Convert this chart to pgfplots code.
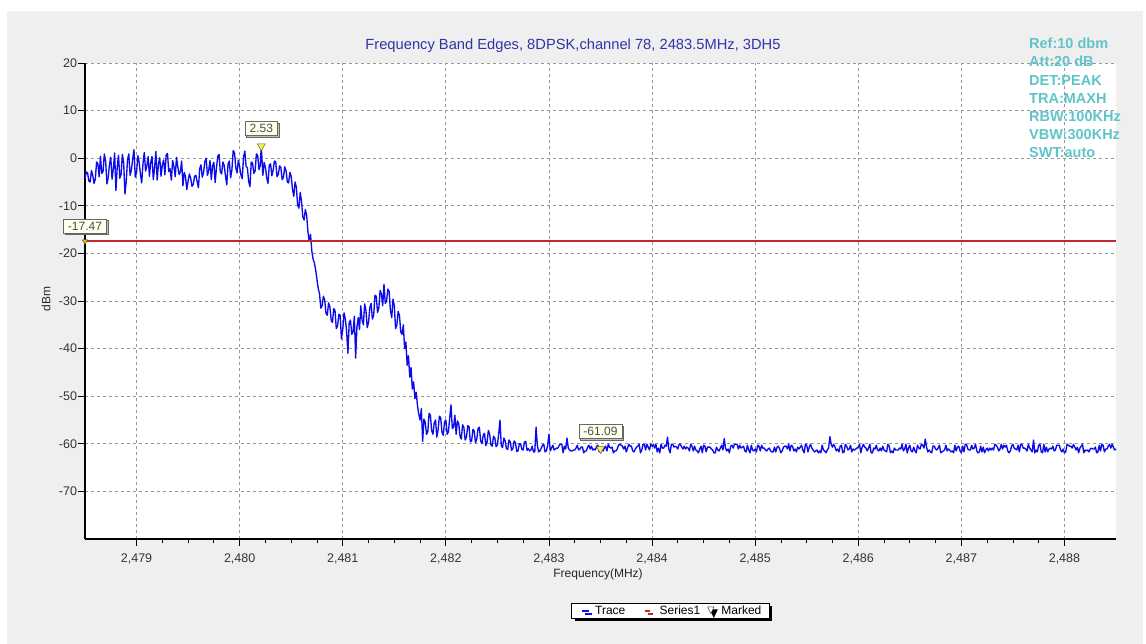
\documentclass[border=0pt]{standalone}
\usepackage{fontspec}
\setmainfont{Liberation Sans}
\usepackage{pgfplots}
\pgfplotsset{compat=1.18}
\usetikzlibrary{shadows}
\definecolor{bggray}{RGB}{239,239,239}
\definecolor{traceblue}{RGB}{12,12,235}
\definecolor{limitred}{RGB}{196,40,45}
\definecolor{titleblue}{RGB}{50,50,170}
\definecolor{tealtxt}{RGB}{96,196,200}
\definecolor{gridgray}{RGB}{150,150,150}
\definecolor{labelfill}{RGB}{255,255,236}
\definecolor{markyellow}{RGB}{250,240,90}
\begin{document}
\begin{tikzpicture}
\path[use as bounding box, fill=white] (0pt,0pt) rectangle (1146pt,644pt);
\fill[bggray] (7pt,0pt) rectangle (1143pt,633pt);
\begin{axis}[
  at={(85pt,105pt)}, anchor=south west,
  scale only axis, width=1031pt, height=476pt,
  xmin=2478.5, xmax=2488.5, ymin=-80, ymax=20,
  clip=false,
  axis background/.style={fill=white},
  axis x line*=bottom, axis y line*=left,
  axis line style={line width=2pt, black, -},
  xtick={2479,2480,2481,2482,2483,2484,2485,2486,2487,2488},
  xticklabels={{2,479},{2,480},{2,481},{2,482},{2,483},{2,484},{2,485},{2,486},{2,487},{2,488}},
  ytick={-70,-60,-50,-40,-30,-20,-10,0,10,20},
  yticklabels={-70,-60,-50,-40,-30,-20,-10,0,10,20},
  minor x tick num=3,
  tick align=outside, major tick length=7pt, minor tick length=4pt,
  tick style={black, line width=0.8pt},
  grid=major,
  major grid style={gridgray, line width=0.9pt, dash pattern=on 3pt off 3pt},
  tick label style={font=\fontsize{12.5}{14}\selectfont, text=black!80},
  xticklabel style={yshift=-4.5pt},
  yticklabel style={xshift=2.5pt},
  xlabel={Frequency(MHz)}, ylabel={dBm},
  every axis x label/.style={at={(axis description cs:0.4976,-0.0735)}, anchor=center, font=\fontsize{12}{14}\selectfont, text=black!85},
  every axis y label/.style={at={(axis description cs:-0.0378,0.504)}, rotate=90, anchor=center, font=\fontsize{12}{14}\selectfont, text=black!85},
  legend columns=3,
  legend cell align=left,
  legend style={at={(0.568,-0.151)}, anchor=center, draw=black, line width=1.1pt, fill=white,
    font=\fontsize{12}{14}\selectfont, inner xsep=6pt, inner ysep=1pt,
    nodes={inner xsep=2pt, inner ysep=1.5pt},
    drop shadow={shadow xshift=3pt, shadow yshift=-3pt, fill=black, opacity=1},
    /tikz/every odd column/.append style={column sep=0pt},
    /tikz/every even column/.append style={column sep=4pt}},
]
\addplot[traceblue, line width=1.35pt, line join=round,
  legend image code/.code={\path (0pt,0pt) (14pt,0pt); \draw[traceblue,line width=1.5pt] (4pt,0pt) -- (11pt,0pt);}]
coordinates {
(2478.500,-4.2)(2478.5125,-2.9)(2478.525,-3.1)(2478.5375,-4.8)(2478.550,-5.0)(2478.5625,-2.6)(2478.575,-3.6)(2478.5875,-5.3)
(2478.600,-4.4)(2478.6125,-0.8)(2478.625,-1.2)(2478.6375,-3.9)(2478.650,0.4)(2478.6625,-3.2)(2478.675,-2.8)(2478.6875,0.9)
(2478.700,-0.6)(2478.7125,-5.4)(2478.725,-4.1)(2478.7375,-1.3)(2478.750,0.2)(2478.7625,-4.4)(2478.775,-2.2)(2478.7875,1.1)
(2478.800,-6.8)(2478.8125,-1.9)(2478.825,0.6)(2478.8375,-4.2)(2478.850,-3.4)(2478.8625,0.8)(2478.875,-1.0)(2478.8875,-7.5)
(2478.900,-4.9)(2478.9125,-0.3)(2478.925,0.9)(2478.9375,-3.6)(2478.950,-2.5)(2478.9625,-0.2)(2478.975,1.8)(2478.9875,-4.0)
(2479.000,-3.0)(2479.0125,0.5)(2479.025,-0.8)(2479.0375,-3.3)(2479.050,-5.2)(2479.0625,-1.1)(2479.075,1.2)(2479.0875,-2.7)
(2479.100,-1.6)(2479.1125,0.3)(2479.125,-3.8)(2479.1375,-0.9)(2479.150,0.4)(2479.1625,-4.5)(2479.175,-2.0)(2479.1875,1.4)
(2479.200,-4.6)(2479.2125,-1.2)(2479.225,0.1)(2479.2375,-3.8)(2479.250,-1.4)(2479.2625,-0.4)(2479.275,-3.5)(2479.2875,0.7)
(2479.300,1.0)(2479.3125,-2.8)(2479.325,-2.2)(2479.3375,-4.6)(2479.350,-0.5)(2479.3625,-1.7)(2479.375,-3.9)(2479.3875,0.2)
(2479.400,-1.8)(2479.4125,-3.4)(2479.425,-2.9)(2479.4375,-0.6)(2479.450,-5.8)(2479.4625,-3.0)(2479.475,-3.9)(2479.4875,-6.6)
(2479.500,-4.8)(2479.5125,-3.3)(2479.525,-4.2)(2479.5375,-5.9)(2479.550,-5.5)(2479.5625,-3.8)(2479.575,-3.6)(2479.5875,-4.9)
(2479.600,-6.2)(2479.6125,-2.2)(2479.625,-1.4)(2479.6375,-4.0)(2479.650,-3.0)(2479.6625,-0.7)(2479.675,0.0)(2479.6875,-3.6)
(2479.700,-2.6)(2479.7125,-0.5)(2479.725,-4.5)(2479.7375,-1.6)(2479.750,-0.9)(2479.7625,-5.1)(2479.775,-2.1)(2479.7875,0.4)
(2479.800,0.8)(2479.8125,-2.9)(2479.825,-3.3)(2479.8375,-0.8)(2479.850,-1.5)(2479.8625,-3.7)(2479.875,-5.6)(2479.8875,-1.2)
(2479.900,-0.6)(2479.9125,-4.1)(2479.925,-2.4)(2479.9375,1.6)(2479.950,1.2)(2479.9625,-2.0)(2479.975,-3.1)(2479.9875,-0.4)
(2480.000,-1.8)(2480.0125,-3.5)(2480.025,-4.3)(2480.0375,0.2)(2480.050,1.5)(2480.0625,-1.7)(2480.075,-2.0)(2480.0875,-4.9)
(2480.100,-6.0)(2480.1125,-0.8)(2480.125,-1.0)(2480.1375,-3.2)(2480.150,-2.7)(2480.1625,0.9)(2480.175,0.6)(2480.1875,-2.4)
(2480.200,-1.5)(2480.210,2.53)(2480.225,-3.6)(2480.2375,-0.9)(2480.250,-1.9)(2480.2625,-4.1)(2480.275,-5.3)(2480.2875,-1.4)
(2480.300,-1.2)(2480.3125,-3.7)(2480.325,-2.5)(2480.3375,-0.6)(2480.350,-0.8)(2480.3625,-3.9)(2480.375,-3.4)(2480.3875,-1.6)
(2480.400,-2.0)(2480.4125,-4.5)(2480.425,-4.0)(2480.4375,-1.8)(2480.450,-2.6)(2480.4625,-5.0)(2480.475,-5.2)(2480.4875,-3.0)
(2480.500,-3.8)(2480.5125,-6.5)(2480.525,-8.0)(2480.5375,-5.0)(2480.550,-6.1)(2480.5625,-9.8)(2480.575,-10.5)(2480.5875,-7.2)
(2480.600,-9.0)(2480.6125,-12.3)(2480.625,-13.0)(2480.6375,-10.8)(2480.650,-12.0)(2480.6625,-15.5)(2480.675,-17.5)(2480.6875,-16.0)
(2480.700,-19.5)(2480.7125,-21.2)(2480.725,-22.0)(2480.7375,-23.5)(2480.750,-25.5)(2480.7625,-27.4)(2480.775,-28.5)(2480.7875,-31.5)
(2480.800,-31.0)(2480.8125,-29.0)(2480.825,-29.8)(2480.8375,-32.6)(2480.850,-33.0)(2480.8625,-30.4)(2480.875,-31.2)(2480.8875,-34.0)
(2480.900,-34.5)(2480.9125,-31.6)(2480.925,-32.0)(2480.9375,-35.8)(2480.950,-35.2)(2480.9625,-32.8)(2480.975,-33.0)(2480.9875,-38.0)
(2481.000,-36.0)(2481.0125,-32.5)(2481.025,-33.8)(2481.0375,-36.4)(2481.050,-41.0)(2481.0625,-34.6)(2481.075,-34.0)(2481.0875,-37.0)
(2481.100,-36.5)(2481.1125,-33.2)(2481.125,-42.0)(2481.1375,-35.5)(2481.150,-33.5)(2481.1625,-36.0)(2481.175,-31.0)(2481.1875,-34.0)
(2481.200,-35.0)(2481.2125,-30.6)(2481.225,-32.0)(2481.2375,-35.6)(2481.250,-34.5)(2481.2625,-31.4)(2481.275,-30.5)(2481.2875,-33.8)
(2481.300,-33.0)(2481.3125,-28.8)(2481.325,-29.0)(2481.3375,-32.4)(2481.350,-31.5)(2481.3625,-27.8)(2481.375,-28.5)(2481.3875,-31.0)
(2481.400,-26.5)(2481.4125,-30.5)(2481.425,-30.0)(2481.4375,-27.5)(2481.450,-28.0)(2481.4625,-32.0)(2481.475,-33.5)(2481.4875,-29.6)
(2481.500,-31.0)(2481.5125,-35.8)(2481.525,-35.0)(2481.5375,-32.2)(2481.550,-33.0)(2481.5625,-36.5)(2481.575,-37.0)(2481.5875,-35.0)
(2481.600,-40.0)(2481.6125,-38.6)(2481.625,-43.5)(2481.6375,-41.5)(2481.650,-46.0)(2481.6625,-44.0)(2481.675,-48.5)(2481.6875,-47.0)
(2481.700,-50.5)(2481.7125,-49.2)(2481.725,-52.0)(2481.7375,-53.8)(2481.750,-55.0)(2481.7625,-52.6)(2481.775,-59.5)(2481.7875,-54.8)
(2481.800,-55.5)(2481.8125,-58.0)(2481.825,-57.5)(2481.8375,-53.6)(2481.850,-54.0)(2481.8625,-57.2)(2481.875,-58.0)(2481.8875,-55.6)
(2481.900,-55.0)(2481.9125,-58.6)(2481.925,-57.0)(2481.9375,-54.2)(2481.950,-54.5)(2481.9625,-57.6)(2481.975,-58.2)(2481.9875,-55.4)
(2482.000,-55.0)(2482.0125,-58.0)(2482.025,-57.5)(2482.0375,-54.6)(2482.050,-51.8)(2482.0625,-56.8)(2482.075,-56.5)(2482.0875,-54.0)
(2482.100,-58.0)(2482.1125,-55.2)(2482.125,-55.8)(2482.1375,-58.4)(2482.150,-59.0)(2482.1625,-56.0)(2482.175,-56.6)(2482.1875,-59.2)
(2482.200,-58.6)(2482.2125,-56.2)(2482.225,-56.4)(2482.2375,-59.6)(2482.250,-59.4)(2482.2625,-57.0)(2482.275,-57.3)(2482.2875,-59.8)
(2482.300,-59.0)(2482.3125,-56.8)(2482.325,-56.5)(2482.3375,-59.4)(2482.350,-60.0)(2482.3625,-58.2)(2482.375,-57.8)(2482.3875,-60.4)
(2482.400,-59.6)(2482.4125,-57.2)(2482.425,-58.0)(2482.4375,-60.2)(2482.450,-60.5)(2482.4625,-58.4)(2482.475,-58.8)(2482.4875,-60.6)
(2482.500,-60.2)(2482.5125,-58.0)(2482.525,-55.0)(2482.5375,-60.4)(2482.550,-60.8)(2482.5625,-58.8)(2482.575,-59.4)(2482.5875,-61.0)
(2482.600,-61.2)(2482.6125,-59.2)(2482.625,-59.6)(2482.6375,-61.4)(2482.650,-61.0)(2482.6625,-59.4)(2482.675,-59.8)(2482.6875,-61.6)
(2482.700,-61.5)(2482.7125,-60.0)(2482.725,-60.0)(2482.7375,-61.2)(2482.750,-61.3)(2482.7625,-59.6)(2482.775,-59.5)(2482.7875,-61.4)
(2482.800,-61.0)(2482.8125,-61.5)(2482.825,-61.3)(2482.8375,-60.5)(2482.850,-61.7)(2482.8625,-61.7)(2482.875,-56.5)(2482.8875,-60.3)
(2482.900,-61.7)(2482.9125,-61.5)(2482.925,-60.9)(2482.9375,-60.3)(2482.950,-60.1)(2482.9625,-61.7)(2482.975,-61.5)(2482.9875,-60.3)
(2483.000,-58.0)(2483.0125,-61.5)(2483.025,-60.9)(2483.0375,-60.3)(2483.050,-61.3)(2483.0625,-61.1)(2483.075,-60.9)(2483.0875,-60.9)
(2483.100,-60.3)(2483.1125,-60.1)(2483.125,-60.1)(2483.1375,-61.9)(2483.150,-60.5)(2483.1625,-61.1)(2483.175,-58.8)(2483.1875,-60.9)
(2483.200,-61.3)(2483.2125,-61.5)(2483.225,-61.5)(2483.2375,-61.3)(2483.250,-61.3)(2483.2625,-60.9)(2483.275,-60.3)(2483.2875,-61.3)
(2483.300,-61.1)(2483.3125,-60.7)(2483.325,-60.7)(2483.3375,-61.9)(2483.350,-61.5)(2483.3625,-61.5)(2483.375,-60.7)(2483.3875,-60.3)
(2483.400,-61.1)(2483.4125,-60.5)(2483.425,-61.3)(2483.4375,-61.1)(2483.450,-61.3)(2483.4625,-60.5)(2483.475,-60.3)(2483.4875,-61.7)
(2483.500,-61.09)(2483.5125,-61.3)(2483.525,-61.5)(2483.5375,-60.9)(2483.550,-60.5)(2483.5625,-61.5)(2483.575,-60.1)(2483.5875,-60.7)
(2483.600,-60.9)(2483.6125,-60.7)(2483.625,-61.9)(2483.6375,-61.5)(2483.650,-61.5)(2483.6625,-61.1)(2483.675,-60.3)(2483.6875,-60.1)
(2483.700,-60.3)(2483.7125,-60.5)(2483.725,-61.1)(2483.7375,-60.5)(2483.750,-61.7)(2483.7625,-60.9)(2483.775,-60.1)(2483.7875,-60.5)
(2483.800,-60.5)(2483.8125,-61.5)(2483.825,-61.7)(2483.8375,-61.1)(2483.850,-60.7)(2483.8625,-60.5)(2483.875,-60.1)(2483.8875,-61.9)
(2483.900,-61.3)(2483.9125,-60.1)(2483.925,-60.1)(2483.9375,-61.3)(2483.950,-60.1)(2483.9625,-60.7)(2483.975,-61.3)(2483.9875,-60.1)
(2484.000,-60.5)(2484.0125,-60.1)(2484.025,-60.9)(2484.0375,-60.1)(2484.050,-61.7)(2484.0625,-60.9)(2484.075,-61.9)(2484.0875,-60.1)
(2484.100,-60.9)(2484.1125,-60.9)(2484.125,-60.3)(2484.1375,-60.5)(2484.150,-58.6)(2484.1625,-61.1)(2484.175,-61.9)(2484.1875,-60.1)
(2484.200,-60.1)(2484.2125,-60.7)(2484.225,-60.5)(2484.2375,-60.7)(2484.250,-61.1)(2484.2625,-60.1)(2484.275,-60.1)(2484.2875,-60.7)
(2484.300,-61.1)(2484.3125,-60.5)(2484.325,-61.1)(2484.3375,-60.7)(2484.350,-60.9)(2484.3625,-61.5)(2484.375,-60.1)(2484.3875,-60.5)
(2484.400,-61.5)(2484.4125,-60.5)(2484.425,-61.3)(2484.4375,-61.5)(2484.450,-61.9)(2484.4625,-61.1)(2484.475,-60.5)(2484.4875,-61.9)
(2484.500,-60.3)(2484.5125,-60.5)(2484.525,-61.7)(2484.5375,-60.7)(2484.550,-60.7)(2484.5625,-60.7)(2484.575,-61.1)(2484.5875,-61.3)
(2484.600,-61.9)(2484.6125,-61.9)(2484.625,-60.7)(2484.6375,-61.3)(2484.650,-61.5)(2484.6625,-60.9)(2484.675,-60.3)(2484.6875,-61.3)
(2484.700,-58.9)(2484.7125,-60.9)(2484.725,-61.5)(2484.7375,-61.1)(2484.750,-61.9)(2484.7625,-60.5)(2484.775,-60.3)(2484.7875,-60.9)
(2484.800,-60.1)(2484.8125,-60.1)(2484.825,-60.1)(2484.8375,-61.1)(2484.850,-60.3)(2484.8625,-60.9)(2484.875,-60.7)(2484.8875,-60.5)
(2484.900,-61.5)(2484.9125,-61.7)(2484.925,-60.3)(2484.9375,-61.3)(2484.950,-61.9)(2484.9625,-60.3)(2484.975,-61.3)(2484.9875,-61.5)
(2485.000,-61.1)(2485.0125,-61.7)(2485.025,-60.3)(2485.0375,-60.5)(2485.050,-61.5)(2485.0625,-60.3)(2485.075,-60.9)(2485.0875,-60.9)
(2485.100,-61.3)(2485.1125,-61.5)(2485.125,-61.1)(2485.1375,-60.9)(2485.150,-61.5)(2485.1625,-61.7)(2485.175,-61.7)(2485.1875,-60.7)
(2485.200,-61.7)(2485.2125,-60.7)(2485.225,-60.5)(2485.2375,-61.1)(2485.250,-61.9)(2485.2625,-61.5)(2485.275,-60.7)(2485.2875,-60.5)
(2485.300,-60.5)(2485.3125,-61.1)(2485.325,-60.1)(2485.3375,-61.5)(2485.350,-60.3)(2485.3625,-60.5)(2485.375,-61.5)(2485.3875,-61.1)
(2485.400,-61.7)(2485.4125,-60.7)(2485.425,-61.1)(2485.4375,-60.7)(2485.450,-60.3)(2485.4625,-61.3)(2485.475,-61.9)(2485.4875,-60.1)
(2485.500,-60.3)(2485.5125,-61.7)(2485.525,-60.7)(2485.5375,-60.1)(2485.550,-60.9)(2485.5625,-61.3)(2485.575,-61.7)(2485.5875,-61.5)
(2485.600,-61.3)(2485.6125,-61.9)(2485.625,-61.5)(2485.6375,-61.9)(2485.650,-60.3)(2485.6625,-61.3)(2485.675,-61.5)(2485.6875,-61.9)
(2485.700,-61.3)(2485.7125,-60.9)(2485.725,-58.5)(2485.7375,-60.1)(2485.750,-60.7)(2485.7625,-60.1)(2485.775,-60.7)(2485.7875,-61.5)
(2485.800,-61.1)(2485.8125,-61.7)(2485.825,-60.5)(2485.8375,-60.3)(2485.850,-61.9)(2485.8625,-61.7)(2485.875,-60.1)(2485.8875,-60.5)
(2485.900,-61.3)(2485.9125,-61.1)(2485.925,-60.3)(2485.9375,-61.7)(2485.950,-61.1)(2485.9625,-61.3)(2485.975,-61.1)(2485.9875,-60.9)
(2486.000,-60.7)(2486.0125,-60.1)(2486.025,-61.9)(2486.0375,-60.7)(2486.050,-60.1)(2486.0625,-60.7)(2486.075,-60.9)(2486.0875,-61.5)
(2486.100,-60.9)(2486.1125,-60.1)(2486.125,-61.9)(2486.1375,-61.9)(2486.150,-60.9)(2486.1625,-61.1)(2486.175,-60.3)(2486.1875,-61.3)
(2486.200,-61.5)(2486.2125,-60.9)(2486.225,-61.5)(2486.2375,-60.5)(2486.250,-61.3)(2486.2625,-61.5)(2486.275,-61.7)(2486.2875,-60.1)
(2486.300,-60.5)(2486.3125,-61.9)(2486.325,-61.5)(2486.3375,-61.9)(2486.350,-60.9)(2486.3625,-61.3)(2486.375,-61.3)(2486.3875,-61.3)
(2486.400,-60.9)(2486.4125,-61.1)(2486.425,-60.1)(2486.4375,-61.5)(2486.450,-61.1)(2486.4625,-60.1)(2486.475,-61.9)(2486.4875,-60.9)
(2486.500,-60.3)(2486.5125,-61.5)(2486.525,-61.7)(2486.5375,-60.7)(2486.550,-61.5)(2486.5625,-61.9)(2486.575,-60.3)(2486.5875,-60.9)
(2486.600,-61.1)(2486.6125,-60.1)(2486.625,-60.3)(2486.6375,-60.9)(2486.650,-59.0)(2486.6625,-60.7)(2486.675,-61.7)(2486.6875,-61.3)
(2486.700,-61.7)(2486.7125,-61.9)(2486.725,-60.5)(2486.7375,-60.5)(2486.750,-61.1)(2486.7625,-61.3)(2486.775,-60.9)(2486.7875,-60.3)
(2486.800,-61.9)(2486.8125,-61.7)(2486.825,-61.5)(2486.8375,-61.3)(2486.850,-60.3)(2486.8625,-61.5)(2486.875,-61.1)(2486.8875,-61.3)
(2486.900,-61.7)(2486.9125,-61.5)(2486.925,-61.9)(2486.9375,-60.3)(2486.950,-61.5)(2486.9625,-60.7)(2486.975,-60.5)(2486.9875,-61.5)
(2487.000,-61.9)(2487.0125,-60.5)(2487.025,-61.7)(2487.0375,-60.1)(2487.050,-60.1)(2487.0625,-61.1)(2487.075,-61.3)(2487.0875,-61.3)
(2487.100,-60.3)(2487.1125,-61.1)(2487.125,-60.9)(2487.1375,-60.1)(2487.150,-61.5)(2487.1625,-61.9)(2487.175,-61.7)(2487.1875,-60.5)
(2487.200,-61.7)(2487.2125,-60.7)(2487.225,-61.9)(2487.2375,-61.3)(2487.250,-60.9)(2487.2625,-61.5)(2487.275,-60.9)(2487.2875,-61.3)
(2487.300,-60.9)(2487.3125,-61.3)(2487.325,-60.1)(2487.3375,-60.3)(2487.350,-60.7)(2487.3625,-61.5)(2487.375,-61.1)(2487.3875,-60.1)
(2487.400,-61.1)(2487.4125,-60.3)(2487.425,-60.7)(2487.4375,-60.3)(2487.450,-61.5)(2487.4625,-61.9)(2487.475,-61.5)(2487.4875,-60.5)
(2487.500,-60.1)(2487.5125,-60.9)(2487.525,-61.1)(2487.5375,-61.3)(2487.550,-60.3)(2487.5625,-61.7)(2487.575,-60.1)(2487.5875,-60.1)
(2487.600,-60.9)(2487.6125,-60.9)(2487.625,-61.1)(2487.6375,-61.5)(2487.650,-60.1)(2487.6625,-60.9)(2487.675,-61.3)(2487.6875,-61.7)
(2487.700,-59.2)(2487.7125,-61.9)(2487.725,-61.3)(2487.7375,-61.7)(2487.750,-60.3)(2487.7625,-60.1)(2487.775,-61.7)(2487.7875,-61.9)
(2487.800,-60.1)(2487.8125,-61.7)(2487.825,-60.7)(2487.8375,-61.7)(2487.850,-61.1)(2487.8625,-60.9)(2487.875,-61.1)(2487.8875,-60.5)
(2487.900,-61.5)(2487.9125,-61.3)(2487.925,-60.3)(2487.9375,-60.3)(2487.950,-60.3)(2487.9625,-61.3)(2487.975,-61.7)(2487.9875,-61.1)
(2488.000,-61.9)(2488.0125,-61.7)(2488.025,-60.1)(2488.0375,-60.3)(2488.050,-60.5)(2488.0625,-60.5)(2488.075,-60.9)(2488.0875,-60.1)
(2488.100,-60.7)(2488.1125,-61.3)(2488.125,-60.7)(2488.1375,-61.9)(2488.150,-60.9)(2488.1625,-60.5)(2488.175,-60.1)(2488.1875,-61.9)
(2488.200,-61.3)(2488.2125,-61.5)(2488.225,-61.3)(2488.2375,-61.7)(2488.250,-61.1)(2488.2625,-60.9)(2488.275,-61.1)(2488.2875,-61.1)
(2488.300,-60.7)(2488.3125,-61.9)(2488.325,-61.7)(2488.3375,-60.3)(2488.350,-61.5)(2488.3625,-60.1)(2488.375,-60.3)(2488.3875,-61.7)
(2488.400,-61.1)(2488.4125,-61.1)(2488.425,-60.5)(2488.4375,-60.1)(2488.450,-60.9)(2488.4625,-60.1)(2488.475,-60.7)(2488.4875,-61.3)
(2488.500,-61.1)
};
\addlegendentry{Trace}
\addplot[limitred, line width=2.2pt,
  legend image code/.code={\path (0pt,0pt) (24pt,0pt); \draw[limitred,line width=2.5pt] (13pt,0pt) -- (18pt,0pt);}]
coordinates {(2478.5,-17.47) (2488.5,-17.47)};
\addlegendentry{Series1}
\addplot[forget plot, only marks, mark=triangle*, mark size=4.5pt,
  mark options={rotate=180, fill=markyellow, draw=olive!70!black, line width=0.5pt},
  point meta=explicit symbolic, nodes near coords={\pgfplotspointmeta},
  nodes near coords align={above},
  nodes near coords style={font=\fontsize{12}{14}\selectfont, text=black!70, draw=black!60, line width=0.8pt,
    fill=labelfill, inner xsep=4.5pt, inner ysep=2.8pt, yshift=10pt,
    drop shadow={shadow xshift=1.5pt, shadow yshift=-1.5pt, fill=black!25, opacity=1}}]
coordinates {(2480.21,2.53) [2.53] (2483.5,-61.09) [-61.09]};
\addplot[forget plot, only marks, mark=triangle*, mark size=3pt,
  mark options={rotate=180, fill=yellow!60!orange, draw=black!70, line width=0.5pt},
  point meta=explicit symbolic, nodes near coords={\pgfplotspointmeta},
  nodes near coords align={above},
  nodes near coords style={font=\fontsize{12}{14}\selectfont, text=black!70, draw=black!60, line width=0.8pt,
    fill=labelfill, inner xsep=4.5pt, inner ysep=2.8pt, yshift=8pt,
    drop shadow={shadow xshift=1.5pt, shadow yshift=-1.5pt, fill=black!25, opacity=1}}]
coordinates {(2478.5,-17.47) [-17.47]};
\addlegendimage{legend image code/.code={\path (0pt,0pt) (12pt,0pt); \draw[black!80,line width=0.45pt,fill=white] (0.8pt,4pt) -- (7.2pt,4pt) -- (4pt,-2.8pt) -- cycle;}}
\addlegendentry{Marked}
\end{axis}
\node[font=\fontsize{14.7}{17}\selectfont, text=titleblue] at (573pt,598pt) {Frequency Band Edges, 8DPSK,channel 78, 2483.5MHz, 3DH5};
\node[anchor=north west, inner sep=0pt, align=left, font=\fontsize{14.5}{18.2}\selectfont\bfseries, text=tealtxt] at (1029pt,606pt)
{Ref:10 dbm\\Att:20 dB\\DET:PEAK\\TRA:MAXH\\RBW:100KHz\\VBW:300KHz\\SWT:auto};
\end{tikzpicture}
\end{document}
